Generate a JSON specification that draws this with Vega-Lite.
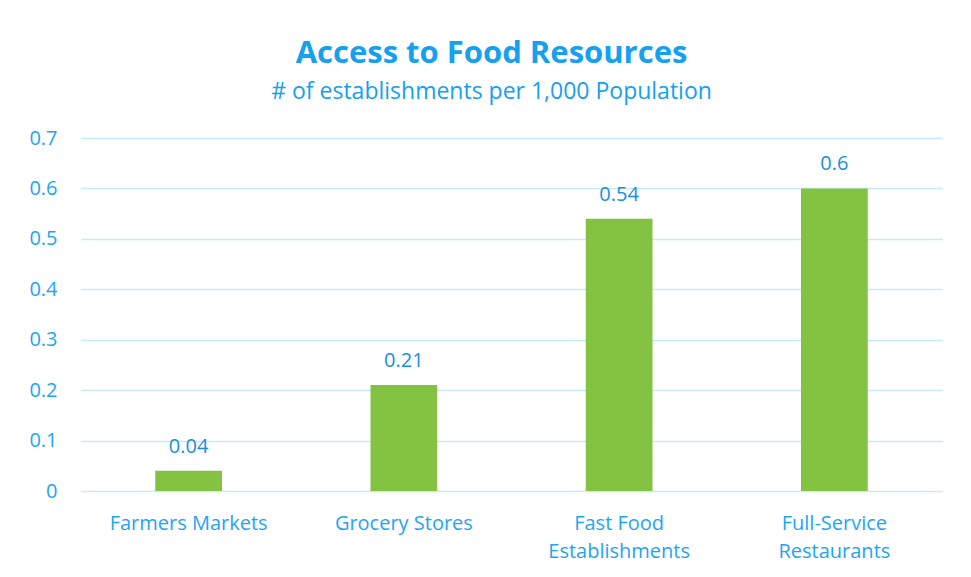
{
  "$schema": "https://vega.github.io/schema/vega-lite/v6.json",
  "width": 861,
  "height": 353,
  "autosize": {"type": "none"},
  "padding": {"left": 81, "top": 138, "right": 29, "bottom": 86},
  "background": "#ffffff",
  "title": {
    "text": "Access to Food Resources",
    "subtitle": "# of establishments per 1,000 Population",
    "anchor": "middle",
    "dx": -20,
    "offset": 23,
    "font": "Open Sans",
    "fontSize": 31,
    "fontWeight": "bold",
    "color": "#15a0f0",
    "subtitleFont": "Open Sans",
    "subtitleFontSize": 23,
    "subtitleColor": "#15a0f0",
    "subtitlePadding": 11
  },
  "data": {
    "values": [
      {"category": "Farmers Markets", "value": 0.04},
      {"category": "Grocery Stores", "value": 0.21},
      {"category": "Fast Food Establishments", "value": 0.54},
      {"category": "Full-Service Restaurants", "value": 0.6}
    ]
  },
  "encoding": {
    "x": {
      "field": "category",
      "type": "nominal",
      "sort": null,
      "scale": {"paddingInner": 0.69, "paddingOuter": 0.345},
      "axis": {
        "title": null,
        "labelAngle": 0,
        "labelFont": "Open Sans",
        "labelFontSize": 20,
        "labelColor": "#1ea5f5",
        "labelPadding": 22,
        "labelLineHeight": 28,
        "ticks": false,
        "domain": false,
        "labelExpr": "datum.label == 'Fast Food Establishments' ? ['Fast Food', 'Establishments'] : datum.label == 'Full-Service Restaurants' ? ['Full-Service', 'Restaurants'] : datum.label"
      }
    },
    "y": {
      "field": "value",
      "type": "quantitative",
      "scale": {"domain": [0, 0.7]},
      "axis": {
        "title": null,
        "values": [0, 0.1, 0.2, 0.3, 0.4, 0.5, 0.6, 0.7],
        "format": "~g",
        "labelFont": "Open Sans",
        "labelFontSize": 20,
        "labelColor": "#1ea5f5",
        "labelPadding": 24,
        "ticks": false,
        "domain": false,
        "grid": true,
        "gridColor": "#c6e9fb",
        "gridWidth": 1.5
      }
    }
  },
  "layer": [
    {"mark": {"type": "bar", "color": "#84c341"}},
    {
      "mark": {
        "type": "text",
        "baseline": "bottom",
        "dy": -14,
        "font": "Open Sans",
        "fontSize": 20,
        "color": "#1a8fdc"
      },
      "encoding": {"text": {"field": "value", "type": "quantitative", "format": "~g"}}
    }
  ],
  "config": {"view": {"stroke": null}}
}
